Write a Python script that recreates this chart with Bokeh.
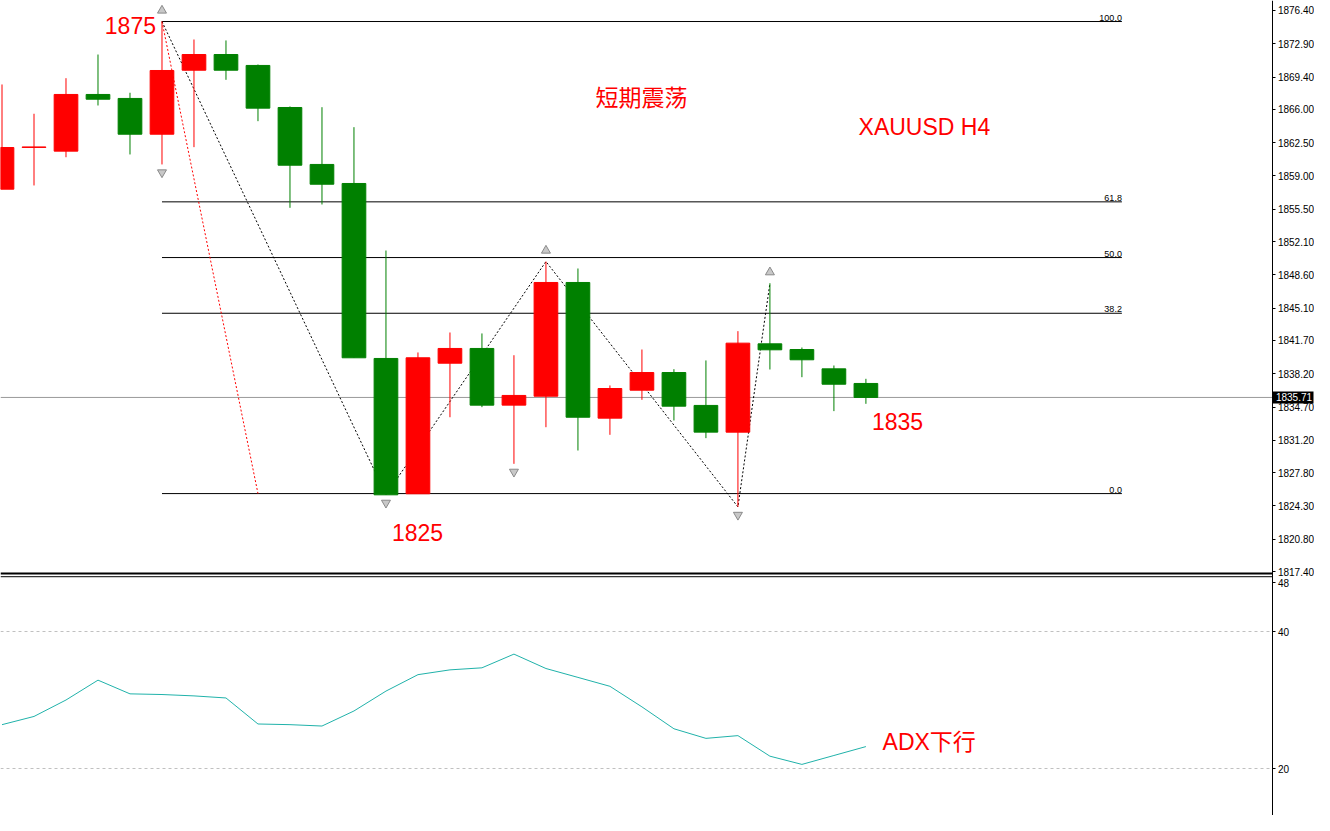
from bokeh.plotting import figure
from bokeh.models import Range1d, FixedTicker, Label, ColumnDataSource, LinearAxis
from bokeh.core.properties import value
from bokeh.embed import file_html
from bokeh.resources import INLINE

# ---------------- data (XAUUSD H4) ----------------
opens = [1857.61, 1862.00, 1861.61, 1867.57, 1867.15, 1863.39, 1870.12, 1871.77,
         1870.62, 1866.20, 1860.21, 1858.21, 1839.81, 1825.58, 1839.31, 1840.86,
         1834.90, 1835.84, 1847.80, 1833.53, 1836.47, 1838.33, 1834.87, 1832.06,
         1841.35, 1840.75, 1838.72, 1837.18]
highs = [1868.62, 1865.54, 1869.28, 1871.77, 1867.75, 1875.24, 1873.35, 1873.25,
         1870.72, 1866.31, 1866.23, 1864.13, 1851.16, 1840.44, 1842.54, 1842.44,
         1840.15, 1850.00, 1849.27, 1836.97, 1840.75, 1838.68, 1839.60, 1842.68,
         1847.72, 1840.96, 1839.07, 1837.67]
lows = [1857.61, 1858.00, 1860.97, 1866.41, 1861.26, 1860.21, 1862.03, 1869.11,
        1864.76, 1855.65, 1856.00, 1839.88, 1825.47, 1825.58, 1833.63, 1834.69,
        1828.73, 1832.58, 1830.13, 1831.78, 1835.46, 1833.29, 1831.43, 1824.20,
        1838.65, 1837.84, 1834.27, 1835.04]
closes = [1861.99, 1862.05, 1867.57, 1867.07, 1863.39, 1870.09, 1871.77, 1870.12,
          1866.13, 1860.13, 1858.13, 1839.88, 1825.47, 1839.88, 1840.86, 1834.90,
          1835.92, 1847.80, 1833.63, 1836.65, 1838.33, 1834.79, 1832.06, 1841.42,
          1840.72, 1839.67, 1837.10, 1835.71]
adx = [26.4, 27.6, 30.0, 32.9, 30.9, 30.8, 30.6, 30.3, 26.5, 26.4, 26.2, 28.4,
       31.3, 33.7, 34.4, 34.7, 36.7, 34.6, 33.3, 32.0, 29.0, 25.8, 24.4, 24.8,
       21.8, 20.6, 21.9, 23.2]

price_ticks = [1876.40, 1872.90, 1869.40, 1866.00, 1862.50, 1859.00, 1855.50,
               1852.10, 1848.60, 1845.10, 1841.70, 1838.20, 1834.70, 1831.20,
               1827.80, 1824.30, 1820.80, 1817.40]
adx_tick_labels = ["48", "40", "20"]
adx_tick_values = [47.1, 40.0, 20.0]
adx_levels = [40.0, 20.0]

fib_high = 1875.24
fib_low = 1825.60
fib_levels = [0.0, 38.2, 50.0, 61.8, 100.0]
fib_start, fib_end, fib_diag_end = 5, 35, 8

zigzag_idx = [5, 12, 17, 23, 24]
zigzag_kind = ["H", "L", "H", "L", "H"]
fractal_up = [5, 17, 24]
fractal_down = [5, 12, 16, 23]

# ---------------- layout ----------------
W, H = 1314, 815
PRICE_RANGE = (1791.75, 1877.45)
ADX_RANGE = (13.14, 132.12)
X_RANGE = (-0.047, 41.02)
AXIS_X = 39.72          # x position of the price scale (bar-index units)
MAIN_BOTTOM = 1817.20
ADX_TOP = 48.0
RED = "#FF0000"
GREEN = "#008000"

price_per_px = (PRICE_RANGE[1] - PRICE_RANGE[0]) / H


def adx_to_price(v):
    return PRICE_RANGE[0] + (v - ADX_RANGE[0]) * (PRICE_RANGE[1] - PRICE_RANGE[0]) / (ADX_RANGE[1] - ADX_RANGE[0])


p = figure(width=W, height=H, x_range=Range1d(*X_RANGE), y_range=Range1d(*PRICE_RANGE),
           output_backend="svg", toolbar_location=None, x_axis_location=None,
           y_axis_location=None, min_border_left=0, min_border_top=0,
           min_border_bottom=0, min_border_right=0, outline_line_color=None,
           background_fill_color="white", border_fill_color="white")
p.extra_y_ranges = {"adx": Range1d(*ADX_RANGE)}
p.xgrid.visible = False
p.ygrid.visible = False

last = closes[-1]

# ---- lines behind the candles ----
def hline(y, range_name="default", **kw):
    p.segment(x0=[X_RANGE[0]], y0=[y], x1=[AXIS_X], y1=[y], y_range_name=range_name, **kw)

hline(MAIN_BOTTOM, line_color="black", line_width=2)
hline(ADX_TOP, "adx", line_color="black", line_width=1)
for lv in adx_levels:
    hline(lv, "adx", line_color="#c0c0c0", line_width=1, line_dash="3 3")
hline(last, line_color="#9a9a9a", line_width=1)

# fibonacci
fib_prices = [fib_low + (fib_high - fib_low) * lv / 100.0 for lv in fib_levels]
p.segment(x0=[fib_start] * len(fib_prices), y0=fib_prices, x1=[fib_end] * len(fib_prices),
          y1=fib_prices, line_color="black", line_width=1)
p.text(x=[fib_end] * len(fib_prices), y=fib_prices, text=[f"{lv:.1f}" for lv in fib_levels],
       text_align="right", text_baseline="bottom", y_offset=-1,
       text_font=value("Liberation Sans"), text_font_size="9px", text_color="black")
p.line(x=[fib_start, fib_diag_end], y=[fib_high, fib_low], line_color=RED, line_width=1,
       line_dash="2 2")

# zigzag
zz_y = [highs[i] if k == "H" else lows[i] for i, k in zip(zigzag_idx, zigzag_kind)]
p.line(x=zigzag_idx, y=zz_y, line_color="black", line_width=1, line_dash="2 2")

# candles
n = len(opens)
xs = list(range(n))
colors = [RED if c >= o else GREEN for o, c in zip(opens, closes)]
src = ColumnDataSource(dict(x=xs, top=[max(o, c) for o, c in zip(opens, closes)],
                            bottom=[min(o, c) for o, c in zip(opens, closes)],
                            high=highs, low=lows, color=colors))
p.segment(x0="x", y0="low", x1="x", y1="high", line_color="color", line_width=1, source=src)
p.vbar(x="x", width=0.74, top="top", bottom="bottom", fill_color="color",
       line_color="color", line_width=1, source=src)

# fractal arrows
up_off = 11 * price_per_px
dn_off = 8 * price_per_px
p.scatter(x=fractal_up, y=[highs[i] + up_off for i in fractal_up], marker="triangle",
          size=9, fill_color="#c8c8c8", line_color="#8a8a8a", line_width=1)
p.scatter(x=fractal_down, y=[lows[i] - dn_off for i in fractal_down], marker="inverted_triangle",
          size=9, fill_color="#c8c8c8", line_color="#8a8a8a", line_width=1)

# ADX line
p.line(x=xs, y=adx, y_range_name="adx", line_color="#20B2AA", line_width=1)

# ---- price scale (fixed inside the frame) ----
adx_pos = [adx_to_price(v) for v in adx_tick_values]
overrides = {t: f"{t:.2f}" for t in price_ticks}
for t, lab in zip(adx_pos, adx_tick_labels):
    overrides[t] = lab
ax = LinearAxis(fixed_location=AXIS_X,
                ticker=FixedTicker(ticks=price_ticks + adx_pos, minor_ticks=[]),
                major_label_overrides=overrides,
                axis_line_color="black", major_tick_line_color="black",
                major_tick_out=3, major_tick_in=0, major_label_standoff=2,
                major_label_text_font="Liberation Sans", major_label_text_font_size="10px",
                major_label_text_color="black")
p.add_layout(ax, "right")

# current price marker on the scale (black box with white value)
box_axis = LinearAxis(fixed_location=AXIS_X,
                      ticker=FixedTicker(ticks=[last], minor_ticks=[]),
                      major_label_overrides={last: f"{last:.2f}"},
                      axis_line_color=None, major_tick_line_color="black",
                      major_tick_line_width=12, major_tick_line_cap="butt",
                      major_tick_out=41, major_tick_in=0, major_label_standoff=-38,
                      major_label_text_color="white", major_label_text_font="Liberation Sans",
                      major_label_text_font_size="10px")
p.add_layout(box_axis, "right")

# texts
font_lat = "Liberation Sans"
font_cjk = "Liberation Sans, Noto Sans CJK SC"
p.add_layout(Label(x=5, y=highs[5], text="1875", text_align="right", text_baseline="middle",
                   x_offset=-6, y_offset=-4, text_color=RED, text_font=font_lat,
                   text_font_size="23px"))
p.add_layout(Label(x=12, y=lows[12], text="1825", text_align="left", text_baseline="middle",
                   x_offset=6, y_offset=-38, text_color=RED, text_font=font_lat,
                   text_font_size="23px"))
p.add_layout(Label(x=n - 1, y=last, text="1835", text_align="left", text_baseline="middle",
                   x_offset=6, y_offset=-24, text_color=RED, text_font=font_lat,
                   text_font_size="23px"))
p.add_layout(Label(x=18.55, y=1867.25, text="短期震荡", text_align="left", text_baseline="middle",
                   text_color=RED, text_font=font_cjk, text_font_size="23px"))
p.add_layout(Label(x=26.77, y=1864.1, text="XAUUSD  H4", text_align="left", text_baseline="middle",
                   text_color=RED, text_font=font_lat, text_font_size="23px"))
p.add_layout(Label(x=27.52, y=23.8, y_range_name="adx", text="ADX下行", text_align="left",
                   text_baseline="middle", text_color=RED, text_font=font_cjk,
                   text_font_size="23px"))

open("out.html", "w").write(file_html(p, INLINE))
